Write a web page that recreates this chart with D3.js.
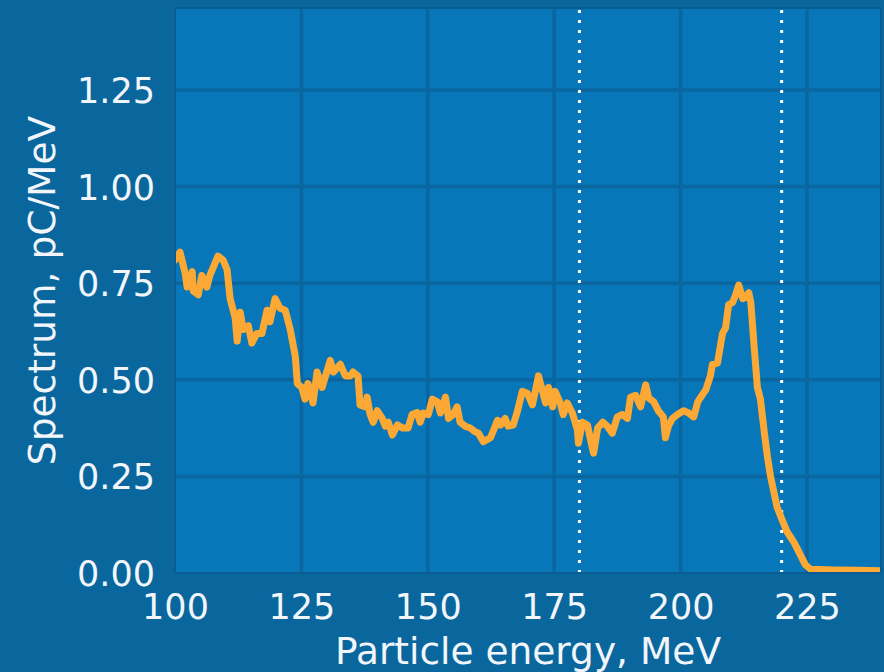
<!DOCTYPE html>
<html>
<head>
<meta charset="utf-8">
<script src="https://cdn.jsdelivr.net/npm/d3@7"></script>
<style>
  html, body { margin: 0; padding: 0; background: #09679e; }
  svg { display: block; }
  text { font-family: "DejaVu Sans", sans-serif; fill: #f2f6fa; }
</style>
</head>
<body>
<svg id="chart" width="884" height="672"></svg>
<script>
// Particle energy (MeV)
const energy = [
  100.0, 101.0, 102.0, 102.4, 103.4, 103.6, 104.6, 105.3, 106.3, 106.9,
  108.5, 109.5, 110.3, 110.9, 111.9, 112.3, 112.9, 113.5, 114.5, 115.2,
  116.2, 117.2, 118.2, 118.8, 119.8, 120.8, 121.8, 122.8, 123.8, 124.2,
  125.1, 125.7, 126.3, 127.3, 128.1, 129.1, 130.7, 131.3, 132.7, 133.7,
  134.7, 135.2, 136.2, 136.6, 137.6, 138.0, 138.6, 139.2, 140.0, 141.0,
  141.6, 142.2, 143.0, 144.0, 145.0, 146.1, 146.9, 147.9, 148.5, 149.1,
  150.1, 150.9, 151.9, 152.5, 153.5, 154.1, 155.0, 155.8, 156.4, 157.4,
  158.4, 159.4, 160.0, 161.0, 162.4, 163.8, 164.4, 165.3, 165.9, 166.9,
  167.7, 168.7, 169.7, 170.7, 171.9, 172.7, 173.3, 173.9, 174.7, 175.2,
  176.2, 176.8, 177.6, 178.6, 179.6, 179.8, 180.6, 181.6, 182.2, 182.8,
  183.6, 184.6, 185.5, 186.5, 187.5, 188.5, 189.5, 190.1, 191.1, 192.1,
  193.1, 193.7, 194.7, 195.6, 196.6, 197.0, 197.6, 198.4, 199.4, 200.6,
  201.6, 202.6, 203.4, 204.0, 205.0, 205.9, 206.3, 207.3, 208.3, 208.9,
  209.5, 210.3, 210.9, 211.5, 212.3, 212.9, 213.5, 213.9, 214.5, 215.2,
  215.8, 216.6, 217.2, 217.8, 218.5, 219.1, 220.1, 221.1, 222.5, 223.7,
  224.7, 225.7, 227.5, 230.0, 235.0, 240.0
];

// Spectrum (pC/MeV)
const spectrum = [
  0.81, 0.83, 0.776, 0.74, 0.78, 0.73, 0.72, 0.77, 0.74, 0.77,
  0.82, 0.81, 0.785, 0.71, 0.66, 0.60, 0.675, 0.63, 0.64, 0.595,
  0.62, 0.62, 0.68, 0.65, 0.71, 0.685, 0.68, 0.63, 0.56, 0.49,
  0.48, 0.45, 0.49, 0.44, 0.52, 0.48, 0.55, 0.52, 0.54, 0.51,
  0.51, 0.52, 0.51, 0.435, 0.43, 0.455, 0.41, 0.39, 0.42, 0.40,
  0.38, 0.39, 0.357, 0.383, 0.375, 0.375, 0.41, 0.415, 0.39, 0.414,
  0.41, 0.45, 0.443, 0.414, 0.455, 0.40, 0.41, 0.43, 0.39, 0.38,
  0.375, 0.365, 0.362, 0.34, 0.35, 0.395, 0.383, 0.40, 0.38, 0.383,
  0.417, 0.47, 0.465, 0.435, 0.51, 0.47, 0.44, 0.48, 0.43, 0.47,
  0.44, 0.41, 0.44, 0.414, 0.37, 0.336, 0.39, 0.383, 0.344, 0.31,
  0.375, 0.39, 0.38, 0.362, 0.404, 0.41, 0.40, 0.455, 0.46, 0.43,
  0.487, 0.453, 0.443, 0.42, 0.404, 0.35, 0.38, 0.40, 0.41, 0.42,
  0.414, 0.404, 0.443, 0.455, 0.474, 0.51, 0.54, 0.543, 0.62, 0.634,
  0.694, 0.70, 0.72, 0.745, 0.71, 0.714, 0.725, 0.70, 0.595, 0.48,
  0.45, 0.36, 0.30, 0.25, 0.207, 0.17, 0.137, 0.106, 0.078, 0.047,
  0.021, 0.01, 0.009, 0.008, 0.007, 0.006
];

// Energy window markers (MeV)
const windowEdges = [180, 220];

const xTicks = [100, 125, 150, 175, 200, 225];
const yTicks = [0.00, 0.25, 0.50, 0.75, 1.00, 1.25];

const xLabel = "Particle energy, MeV";
const yLabel = "Spectrum, pC/MeV";

const svg = d3.select("#chart");
const W = 884, H = 672;
const plot = { left: 175, right: 881, top: 8, bottom: 573 };

const x = d3.scaleLinear().domain([100, 239.65]).range([plot.left, plot.right]);
const y = d3.scaleLinear().domain([0, 1.462]).range([plot.bottom, plot.top]);

svg.append("rect").attr("width", W).attr("height", H).attr("fill", "#09679e");

// plot background
svg.append("rect")
  .attr("x", plot.left).attr("y", plot.top)
  .attr("width", plot.right - plot.left).attr("height", plot.bottom - plot.top)
  .attr("fill", "#0877ba");

svg.append("defs").append("clipPath").attr("id", "clip")
  .append("rect")
  .attr("x", plot.left).attr("y", plot.top)
  .attr("width", plot.right - plot.left).attr("height", plot.bottom - plot.top);

// grid
const grid = svg.append("g").attr("stroke", "#0a669f").attr("stroke-width", 3.5);
grid.selectAll("line.v").data(xTicks.filter(t => t > 100)).join("line")
  .attr("class", "v")
  .attr("x1", d => x(d)).attr("x2", d => x(d))
  .attr("y1", plot.top).attr("y2", plot.bottom);
grid.selectAll("line.h").data(yTicks.filter(t => t > 0)).join("line")
  .attr("class", "h")
  .attr("x1", plot.left).attr("x2", plot.right)
  .attr("y1", d => y(d)).attr("y2", d => y(d));

// energy window markers
svg.append("g").selectAll("line").data(windowEdges).join("line")
  .attr("x1", d => x(d)).attr("x2", d => x(d))
  .attr("y1", plot.bottom).attr("y2", plot.top)
  .attr("stroke", "#ffffff").attr("stroke-width", 3)
  .attr("stroke-dasharray", "3,7");

// spectrum curve
const pts = energy.map((e, i) => [e, spectrum[i]]);
const line = d3.line().x(d => x(d[0])).y(d => y(d[1]));
svg.append("path")
  .attr("clip-path", "url(#clip)")
  .attr("d", line(pts))
  .attr("fill", "none")
  .attr("stroke", "#fba934")
  .attr("stroke-width", 7)
  .attr("stroke-linejoin", "round")
  .attr("stroke-linecap", "round");

// plot frame
svg.append("rect")
  .attr("x", plot.left).attr("y", plot.top)
  .attr("width", plot.right - plot.left).attr("height", plot.bottom - plot.top)
  .attr("fill", "none").attr("stroke", "#0a5d93").attr("stroke-width", 2);

// axes
const xAxis = svg.append("g").attr("transform", `translate(0,${plot.bottom})`)
  .call(d3.axisBottom(x).tickValues(xTicks).tickSize(0).tickPadding(0).tickFormat(d3.format("d")));
xAxis.select(".domain").remove();
xAxis.selectAll("text").attr("dy", null).attr("y", 46)
  .style("font-size", "35px").attr("fill", "#f2f6fa");

const yAxis = svg.append("g").attr("transform", `translate(${plot.left},0)`)
  .call(d3.axisLeft(y).tickValues(yTicks).tickSize(0).tickPadding(20).tickFormat(d3.format(".2f")));
yAxis.select(".domain").remove();
yAxis.selectAll("text").attr("dy", "0.36em")
  .style("font-size", "35px").attr("fill", "#f2f6fa");

// axis titles
svg.append("text")
  .attr("x", (plot.left + plot.right) / 2).attr("y", 664)
  .attr("text-anchor", "middle")
  .style("font-size", "37.5px")
  .text(xLabel);

svg.append("text")
  .attr("transform", `translate(55,${(plot.top + plot.bottom) / 2}) rotate(-90)`)
  .attr("text-anchor", "middle")
  .style("font-size", "37.5px")
  .text(yLabel);
</script>
</body>
</html>
